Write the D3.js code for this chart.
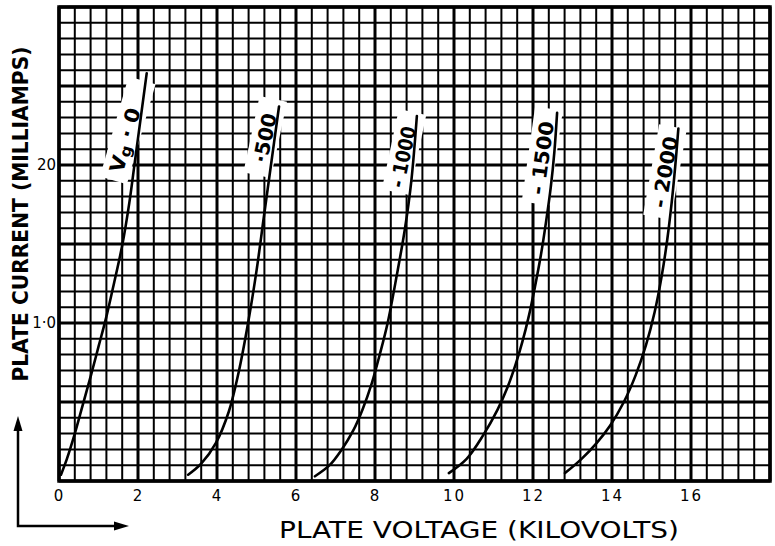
<!DOCTYPE html>
<html><head><meta charset="utf-8">
<script src="https://cdn.jsdelivr.net/npm/d3@7"></script>
<style>body{margin:0;background:#fff}svg{display:block}</style>
</head><body>
<svg id="c" width="775" height="546"></svg>
<script>
// ---- data ----
const xTickValues = [0, 2, 4, 6, 8, 10, 12, 14, 16];
const xTickLabels = ["0", "2", "4", "6", "8", "10", "12", "14", "16"];
const yTickValues = [10, 20];
const yTickLabels = ["1·0", "20"];
const seriesNames = ["Vg · 0", "·500", "- 1000", "- 1500", "- 2000"];

const vg0_kV = [0.05, 0.20, 0.40, 0.60, 0.80, 1.00, 1.20, 1.40, 1.60, 1.78, 1.92, 2.07, 2.22];
const vg0_mA = [0.4, 1.4, 3.0, 4.8, 6.6, 8.5, 10.4, 12.6, 14.9, 17.6, 20.2, 23.0, 25.8];
const vg500_kV = [3.27, 3.60, 3.97, 4.30, 4.55, 4.78, 5.00, 5.18, 5.35, 5.57];
const vg500_mA = [0.4, 1.1, 2.4, 4.4, 6.9, 9.9, 13.3, 16.6, 19.7, 23.7];
const vg1000_kV = [6.48, 6.85, 7.16, 7.45, 7.68, 7.92, 8.12, 8.32, 8.55, 8.76, 8.92, 9.06];
const vg1000_mA = [0.3, 1.0, 2.0, 3.2, 4.5, 6.2, 8.0, 10, 13, 16, 19, 23.1];
const vg1500_kV = [9.87, 10.32, 10.74, 11.10, 11.35, 11.55, 11.73, 11.90, 12.05, 12.20, 12.33, 12.45, 12.54, 12.61];
const vg1500_mA = [0.5, 1.4, 2.9, 4.5, 5.9, 7.3, 8.8, 10.5, 12.3, 14.3, 16.4, 18.6, 20.8, 23.3];
const vg2000_kV = [12.81, 13.23, 13.61, 13.95, 14.30, 14.60, 14.86, 15.08, 15.26, 15.40, 15.51, 15.60, 15.68];
const vg2000_mA = [0.5, 1.4, 2.4, 3.5, 5.0, 6.7, 8.6, 10.7, 13.0, 15.3, 17.6, 19.9, 22.3];

const seriesKV = [vg0_kV, vg500_kV, vg1000_kV, vg1500_kV, vg2000_kV];
const seriesMA = [vg0_mA, vg500_mA, vg1000_mA, vg1500_mA, vg2000_mA];

// ---- layout ----
const L = 59, R = 770, T = 7, B = 481;
const svg = d3.select("#c");
const x = d3.scaleLinear().domain([0, 18]).range([L, R]);
const y = d3.scaleLinear().domain([0, 30]).range([B, T]);
const FONT = "'DejaVu Sans', 'Liberation Sans', sans-serif";

// grid
const g = svg.append("g");
const xs = d3.range(0, 46).map(i => i * 0.4);
const ys = d3.range(0, 31);
g.selectAll("line.v").data(xs).join("line")
  .attr("x1", d => x(d)).attr("x2", d => x(d)).attr("y1", T).attr("y2", B)
  .attr("stroke", "#000")
  .attr("stroke-width", (d, i) => i % 5 === 0 ? 3 : 2);
g.selectAll("line.h").data(ys).join("line")
  .attr("y1", d => y(d)).attr("y2", d => y(d)).attr("x1", L).attr("x2", R)
  .attr("stroke", "#000")
  .attr("stroke-width", (d, i) => i % 5 === 0 ? 3 : 2);
g.append("rect").attr("x", L).attr("y", T).attr("width", R - L).attr("height", B - T)
  .attr("fill", "none").attr("stroke", "#000").attr("stroke-width", 3.5);

// label layout (pixel centres, angle, text length, box extents along text)
const labelLayout = [
  {cx: 125, cy: 140, a: -74, len: 66, b0: -42, b1: 62},
  {cx: 265, cy: 138, a: -78, len: 50, b0: -38, b1: 40},
  {cx: 403, cy: 157, a: -78, len: 62, b0: -36, b1: 46},
  {cx: 542, cy: 158, a: -82, len: 74, b0: -46, b1: 50},
  {cx: 665, cy: 172, a: -80, len: 72, b0: -46, b1: 46}
];

// white patches behind labels
const lab = svg.append("g");
labelLayout.forEach((p) => {
  lab.append("g").attr("transform", `translate(${p.cx},${p.cy}) rotate(${p.a})`)
    .append("rect").attr("x", p.b0).attr("y", -14).attr("width", p.b1 - p.b0).attr("height", 28)
    .attr("fill", "#fff");
});

// curves
const line = d3.line().x(d => x(d[0])).y(d => y(d[1])).curve(d3.curveCatmullRom.alpha(0.5));
seriesKV.forEach((kv, i) => {
  const pts = kv.map((v, j) => [v, seriesMA[i][j]]);
  svg.append("path").attr("d", line(pts)).attr("fill", "none")
    .attr("stroke", "#000").attr("stroke-width", 2.6).attr("stroke-linecap", "round");
});

// curve labels
labelLayout.forEach((p, i) => {
  const t = svg.append("text")
    .attr("transform", `translate(${p.cx},${p.cy}) rotate(${p.a})`)
    .attr("text-anchor", "middle").attr("dominant-baseline", "central")
    .attr("font-family", FONT).attr("font-size", 20).attr("font-weight", "bold")
    .attr("textLength", p.len).attr("lengthAdjust", "spacingAndGlyphs");
  if (i === 0) {
    t.append("tspan").text("V");
    t.append("tspan").attr("font-size", 15).attr("dy", 4).text("g");
    t.append("tspan").attr("dy", -4).text(" · 0");
  } else {
    t.text(seriesNames[i]);
  }
});

// axes
const xAxis = svg.append("g").attr("transform", `translate(0,${B})`)
  .call(d3.axisBottom(x).tickValues(xTickValues).tickFormat((d, i) => xTickLabels[i]).tickSize(0).tickPadding(9));
xAxis.select(".domain").remove();
xAxis.selectAll("text").attr("font-family", FONT).attr("font-size", 15).attr("letter-spacing", 2).attr("fill", "#000");

const yAxis = svg.append("g").attr("transform", `translate(${L},0)`)
  .call(d3.axisLeft(y).tickValues(yTickValues).tickFormat((d, i) => yTickLabels[i]).tickSize(0).tickPadding(3));
yAxis.select(".domain").remove();
yAxis.selectAll("text").attr("font-family", FONT).attr("font-size", 15).attr("fill", "#000");

// axis titles
svg.append("text").attr("x", 479).attr("y", 538).attr("text-anchor", "middle")
  .attr("font-family", FONT).attr("font-size", 23)
  .attr("textLength", 400).attr("lengthAdjust", "spacingAndGlyphs")
  .text("PLATE VOLTAGE (KILOVOLTS)");

svg.append("text").attr("transform", "translate(28,214) rotate(-90)").attr("text-anchor", "middle")
  .attr("font-family", FONT).attr("font-size", 21).attr("font-weight", "bold")
  .attr("textLength", 335).attr("lengthAdjust", "spacingAndGlyphs")
  .text("PLATE CURRENT (MILLIAMPS)");

// corner arrows
const ar = svg.append("g").attr("stroke", "#000").attr("stroke-width", 2.5).attr("fill", "none");
ar.append("path").attr("d", "M18,428 L18,526 L118,526");
svg.append("path").attr("d", "M18,416 L13.5,431 L22.5,431 Z").attr("fill", "#000");
svg.append("path").attr("d", "M129,526 L114,521.5 L114,530.5 Z").attr("fill", "#000");
</script>
</body></html>
